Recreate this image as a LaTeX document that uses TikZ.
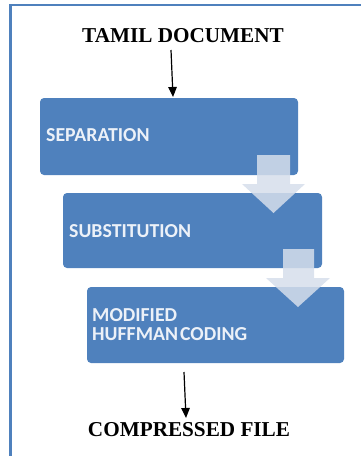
\documentclass[tikz,border=0pt]{standalone}
\usepackage{fontspec}
\setmainfont{Liberation Serif}
\newfontfamily\boxfont{Carlito}
\usetikzlibrary{arrows.meta}
\definecolor{boxblue}{RGB}{79,129,189}
\definecolor{chev}{RGB}{214,222,235}
\definecolor{boxtext}{RGB}{236,241,248}
\tikzset{
  stepbox/.style={fill=boxblue, draw=none, rounded corners=4pt},
  boxlabel/.style={anchor=west, text=boxtext, font=\boxfont\bfseries\fontsize{19.8}{20}\selectfont, inner sep=0pt, align=left},
  title/.style={font=\bfseries\fontsize{21.2}{24}\selectfont, inner sep=0pt},
  flow/.style={-{Triangle[length=10pt,width=8.5pt]}, line width=1.2pt, black},
  chevron/.style={fill=chev, fill opacity=0.85, draw=none},
  frame/.style={draw=boxblue, line width=2.3pt}
}
\begin{document}
\begin{tikzpicture}[x=1pt,y=-1pt]
\useasboundingbox (0,0) rectangle (361,456);
% frame
\draw[frame] (10.5,470) -- (10.5,5) -- (370,5);
% titles
\node[title] (doc) at (183,36) {TAMIL DOCUMENT};
\node[title] (out) at (189,430) {COMPRESSED FILE};
% boxes
\path[stepbox] (40,98) rectangle (298,175);
\path[stepbox] (63,193) rectangle (322,268);
\path[stepbox] (87,287) rectangle (344,363);
\node[boxlabel] (sep) at (46,135) {SEPARATION};
\node[boxlabel] (sub) at (69,231) {SUBSTITUTION};
\node[boxlabel] (mod) at (92,325) {MODIFIED\\[-1pt]HUFFMAN\hspace{-2.5pt} CODING};
% chevrons
\path[chevron] (257,155) -- (290,155) -- (290,184) -- (305,184) -- (273.5,213) -- (242,184) -- (257,184) -- cycle;
\path[chevron] (283,249) -- (314,249) -- (314,278) -- (330,278) -- (298,307) -- (266,278) -- (283,278) -- cycle;
% connectors
\coordinate (a1s) at (171,50);
\coordinate (a1e) at (173,97);
\coordinate (a2s) at (184,372);
\coordinate (a2e) at (186,418);
\draw[flow] (a1s) -- (a1e);
\draw[flow] (a2s) -- (a2e);
\end{tikzpicture}
\end{document}
